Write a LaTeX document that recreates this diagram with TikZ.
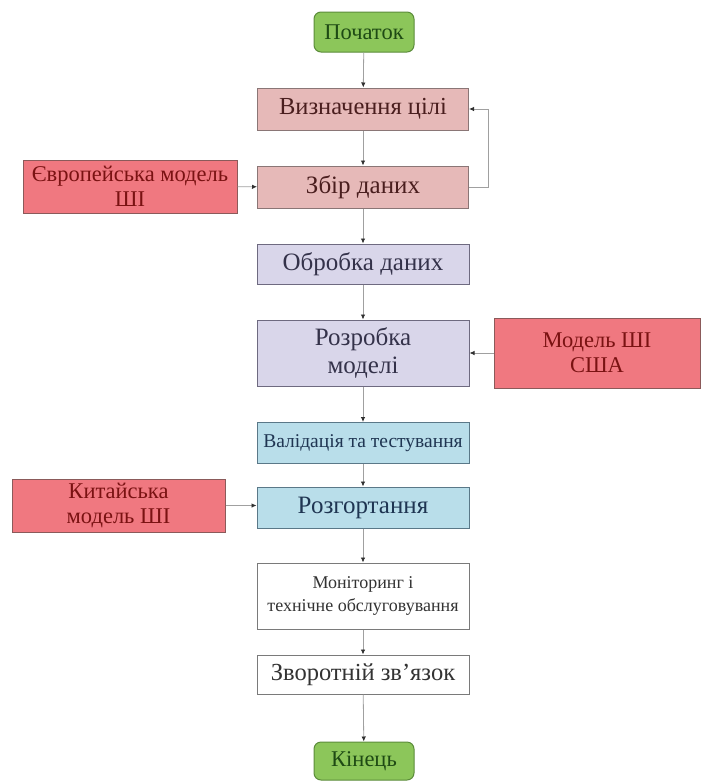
\documentclass[tikz,border=0pt]{standalone}
\usepackage{fontspec}
\setmainfont{Liberation Serif}
\usetikzlibrary{arrows.meta}

\definecolor{startfill}{HTML}{8CC65A}
\definecolor{startdraw}{HTML}{5B8C3A}
\definecolor{starttext}{HTML}{1E4A14}
\definecolor{pinkfill}{HTML}{E6B9B8}
\definecolor{pinkdraw}{HTML}{8A7676}
\definecolor{pinktext}{HTML}{4A1E1E}
\definecolor{redfill}{HTML}{F07880}
\definecolor{reddraw}{HTML}{8B5A5A}
\definecolor{redtext}{HTML}{7A1212}
\definecolor{lavfill}{HTML}{D9D6EA}
\definecolor{lavdraw}{HTML}{6E6A80}
\definecolor{lavtext}{HTML}{34324A}
\definecolor{bluefill}{HTML}{B9DEEA}
\definecolor{bluedraw}{HTML}{5A7888}
\definecolor{bluetext}{HTML}{1F3552}
\definecolor{whitedraw}{HTML}{7A7A7A}
\definecolor{whitetext}{HTML}{333333}
\definecolor{linkgray}{HTML}{A0A0A0}
\definecolor{tipgray}{HTML}{303030}

\tikzset{
  box/.style={rectangle, inner sep=1pt, align=center, line width=1pt},
  terminal/.style={box, rounded corners=7pt, fill=startfill, draw=startdraw,
    text=starttext, minimum width=100pt, minimum height=40pt, font=\fontsize{22.5}{24}\selectfont},
  pinkbox/.style={box, fill=pinkfill, draw=pinkdraw, text=pinktext,
    minimum width=211pt, minimum height=42pt, font=\fontsize{25}{27}\selectfont},
  redbox/.style={box, fill=redfill, draw=reddraw, text=redtext, font=\fontsize{22.5}{25}\selectfont},
  lavbox/.style={box, fill=lavfill, draw=lavdraw, text=lavtext,
    minimum width=212pt, font=\fontsize{25}{28}\selectfont},
  bluebox/.style={box, fill=bluefill, draw=bluedraw, text=bluetext,
    minimum width=212pt, minimum height=41pt},
  plainbox/.style={box, fill=white, draw=whitedraw, text=whitetext, minimum width=212pt},
  link/.style={draw=linkgray, line width=0.8pt,
    -{Latex[length=5pt,width=4.5pt,color=tipgray]}}
}

\begin{document}
\begin{tikzpicture}[x=1pt, y=-1pt]
  \useasboundingbox (0,0) rectangle (702,782);

  % main flow
  \node[terminal] (start) at (364,32) {Початок};
  \node[pinkbox, font=\fontsize{24.5}{27}\selectfont] (goal) at (363,109) {Визначення цілі};
  \node[pinkbox] (collect) at (363,187) {Збір даних};
  \node[lavbox, minimum height=40pt] (process) at (363,264) {Обробка даних};
  \node[lavbox, minimum height=66pt] (develop) at (363,353) {Розробка\\моделі};
  \node[bluebox, font=\fontsize{19.5}{21}\selectfont] (validate) at (363,443) {Валідація та тестування};
  \node[bluebox, font=\fontsize{25}{27}\selectfont] (deploy) at (363,507.5) {Розгортання};
  \node[plainbox, minimum height=66pt, font=\fontsize{18}{23}\selectfont] (monitor) at (363,596) {Моніторинг і\\технічне обслуговування};
  \node[plainbox, minimum height=39pt, font=\fontsize{24.5}{27}\selectfont] (feedback) at (363,674.5) {Зворотній зв'язок};
  \node[terminal, minimum height=38pt] (finish) at (364,761) {Кінець};

  % external models
  \node[redbox, minimum width=214pt, minimum height=53pt] (eu) at (130,186.5) {Європейська модель\\ШІ};
  \node[redbox, minimum width=206pt, minimum height=70pt] (us) at (597,353) {Модель ШІ\\США};
  \node[redbox, minimum width=213pt, minimum height=53pt] (cn) at (118.5,505.5) {Китайська\\модель ШІ};

  % vertical connectors
  \draw[link] (start) -- (goal);
  \draw[link] (goal) -- (collect);
  \draw[link] (collect) -- (process);
  \draw[link] (process) -- (develop);
  \draw[link] (develop) -- (validate);
  \draw[link] (validate) -- (deploy);
  \draw[link] (deploy) -- (monitor);
  \draw[link] (monitor) -- (feedback);
  \draw[link] (feedback) -- (finish);

  % loop back from data collection to goal definition
  \coordinate (loop) at (488,0);
  \draw[link] (collect.east) -| (loop |- collect.east) |- (goal.east);

  % external models feeding the flow
  \draw[link] (eu) -- (collect);
  \draw[link] (us) -- (develop);
  \draw[link] (cn) -- (cn -| deploy.west);
\end{tikzpicture}
\end{document}
